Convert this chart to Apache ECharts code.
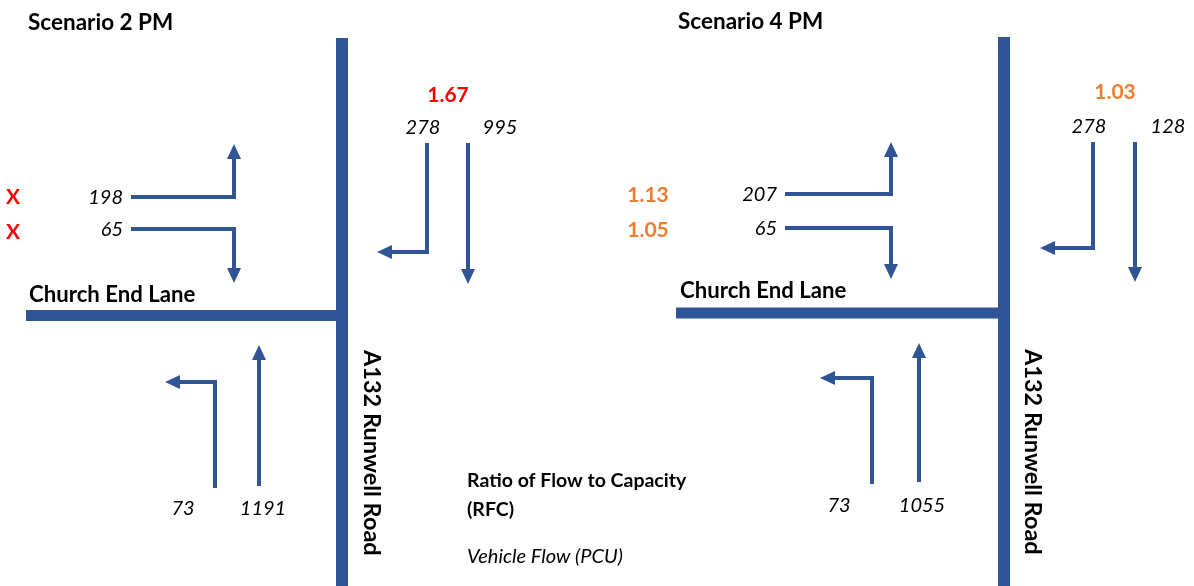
<!DOCTYPE html>
<html>
<head>
<meta charset="utf-8">
<script src="https://cdn.jsdelivr.net/npm/echarts@6/dist/echarts.min.js"></script>
<style>
html,body{margin:0;padding:0;background:#fff;}
#chart{width:1194px;height:586px;}
</style>
</head>
<body>
<div id="chart"></div>
<script>
// ---------- DATA ----------
const scenarios = ['Scenario 2 PM', 'Scenario 4 PM'];
const movementNames = ['Church End Lane left', 'Church End Lane right', 'A132 SB right', 'A132 SB ahead', 'A132 NB left', 'A132 NB ahead'];
const flows2PM = [198, 65, 278, 995, 73, 1191];
const flows4PM = [207, 65, 278, 128, 73, 1055];
const rfc2PM = ['X', 'X', '1.67'];
const rfc4PM = ['1.13', '1.05', '1.03'];
const minorRoadName = 'Church End Lane';
const majorRoadName = 'A132 Runwell Road';
const keyLines = ['Ratio of Flow to Capacity', '(RFC)', 'Vehicle Flow (PCU)'];

// ---------- LAYOUT (diagram geometry, in axis units) ----------
const BLUE = '#2F5597';
const layout = [
  {
    title: [28, 23],
    major: [[342, 38], [342, 586]],
    minor: [[26, 315.5], [342, 315.5]],
    minorLabel: [29, 295],
    majorLabel: [360, 350],
    paths: [
      [[131, 197], [234, 197], [234, 144]],
      [[131, 229], [234, 229], [234, 283]],
      [[427, 143], [427, 252], [377, 252]],
      [[468, 143], [468, 284]],
      [[215, 488], [215, 382], [165, 382]],
      [[259, 486], [259, 345]]
    ],
    flowPos: [[123, 198, 'right'], [123, 230, 'right'], [423, 128, 'center'], [500, 128, 'center'], [183, 509, 'center'], [263, 509, 'center']],
    rfcPos: [[13, 197], [13, 232], [448, 95]],
    rfcColor: '#FF0000'
  },
  {
    title: [678, 22],
    major: [[1004, 37], [1004, 586]],
    minor: [[676, 313], [1004, 313]],
    minorLabel: [680, 291],
    majorLabel: [1021, 349],
    paths: [
      [[785, 194], [891, 194], [891, 142]],
      [[785, 228], [891, 228], [891, 279]],
      [[1093, 142], [1093, 248], [1040, 248]],
      [[1135, 142], [1135, 282]],
      [[872, 484], [872, 378], [820, 378]],
      [[919, 482], [919, 343]]
    ],
    flowPos: [[777, 195, 'right'], [777, 229, 'right'], [1089, 127, 'center'], [1168, 127, 'center'], [839, 506, 'center'], [922, 506, 'center']],
    rfcPos: [[648, 195], [648, 230], [1115, 92]],
    rfcColor: '#ED7D31'
  }
];
const keyPos = [[467, 481], [467, 510], [467, 557]];

const flowsByScenario = [flows2PM, flows4PM];
const rfcByScenario = [rfc2PM, rfc4PM];

// ---------- SERIES DATA ----------
const roadData = [];
const moveData = [];
const textData = [];
const texts = [];
function addText(pos, text, style) {
  texts.push({ text: text, style: style });
  textData.push([pos[0], pos[1], texts.length - 1]);
}
const FONT = 'Lato, "Open Sans", sans-serif';
scenarios.forEach((name, s) => {
  const L = layout[s];
  roadData.push([s, 0]);
  roadData.push([s, 1]);
  movementNames.forEach((mn, m) => moveData.push([s, m]));
  addText(L.title, name, { fontWeight: 'bold', fontSize: 22.5, align: 'left' });
  addText(L.minorLabel, minorRoadName, { fontWeight: 'bold', fontSize: 22.2, align: 'left' });
  addText(L.majorLabel, majorRoadName, { fontWeight: 'bold', fontSize: 23.5, align: 'left', rotate: true });
  flowsByScenario[s].forEach((v, m) => {
    const p = L.flowPos[m];
    addText([p[0], p[1]], String(v), { fontStyle: 'italic', fontSize: 20, align: p[2] });
  });
  rfcByScenario[s].forEach((v, i) => {
    addText(L.rfcPos[i], v, { fontWeight: 'bold', fontSize: 21, align: 'center', fill: L.rfcColor });
  });
});
keyLines.forEach((t, i) => {
  addText(keyPos[i], t, i < 2 ? { fontWeight: 'bold', fontSize: 19.5, align: 'left' } : { fontStyle: 'italic', fontSize: 20, align: 'left' });
});

const chart = echarts.init(document.getElementById('chart'), null, { renderer: 'canvas' });
chart.setOption({
  animation: false,
  backgroundColor: '#ffffff',
  grid: { left: 0, right: 0, top: 0, bottom: 0 },
  xAxis: { type: 'value', min: 0, max: 1194, show: false },
  yAxis: { type: 'value', min: 0, max: 586, inverse: true, show: false },
  series: [
    {
      type: 'custom',
      coordinateSystem: 'cartesian2d',
      clip: false,
      silent: true,
      data: roadData,
      encode: { x: -1, y: -1 },
      renderItem: function (params, api) {
        const s = api.value(0), r = api.value(1);
        const L = layout[s];
        const seg = r === 0 ? L.major : L.minor;
        const pts = seg.map(p => api.coord(p));
        return {
          type: 'polyline',
          shape: { points: pts },
          style: { stroke: BLUE, lineWidth: r === 0 ? 12 : 11, fill: null, lineCap: 'butt' }
        };
      }
    },
    {
      type: 'custom',
      coordinateSystem: 'cartesian2d',
      clip: false,
      silent: true,
      data: moveData,
      encode: { x: -1, y: -1 },
      renderItem: function (params, api) {
        const s = api.value(0), m = api.value(1);
        const path = layout[s].paths[m];
        const pts = path.map(p => api.coord(p));
        const tip = pts[pts.length - 1], prev = pts[pts.length - 2];
        let dx = tip[0] - prev[0], dy = tip[1] - prev[1];
        const len = Math.sqrt(dx * dx + dy * dy);
        dx /= len; dy /= len;
        const AL = 15, AW = 7;
        const base = [tip[0] - dx * AL, tip[1] - dy * AL];
        const nx = -dy, ny = dx;
        const linePts = pts.slice(0, pts.length - 1).concat([[base[0] + dx * 2, base[1] + dy * 2]]);
        return {
          type: 'group',
          children: [
            {
              type: 'polyline',
              shape: { points: linePts },
              style: { stroke: BLUE, lineWidth: 4, fill: null, lineJoin: 'miter', lineCap: 'butt' }
            },
            {
              type: 'polygon',
              shape: { points: [tip, [base[0] + nx * AW, base[1] + ny * AW], [base[0] - nx * AW, base[1] - ny * AW]] },
              style: { fill: BLUE }
            }
          ]
        };
      }
    },
    {
      type: 'custom',
      coordinateSystem: 'cartesian2d',
      clip: false,
      silent: true,
      data: textData,
      encode: { x: 0, y: 1 },
      renderItem: function (params, api) {
        const pt = api.coord([api.value(0), api.value(1)]);
        const t = texts[api.value(2)];
        const st = t.style;
        return {
          type: 'text',
          x: pt[0],
          y: pt[1],
          rotation: st.rotate ? -Math.PI / 2 : 0,
          style: {
            text: t.text,
            fill: st.fill || '#000000',
            fontFamily: FONT,
            fontSize: st.fontSize,
            fontWeight: st.fontWeight || 'normal',
            fontStyle: st.fontStyle || 'normal',
            align: st.align,
            verticalAlign: st.rotate ? 'bottom' : 'middle'
          }
        };
      }
    }
  ]
});
</script>
</body>
</html>
